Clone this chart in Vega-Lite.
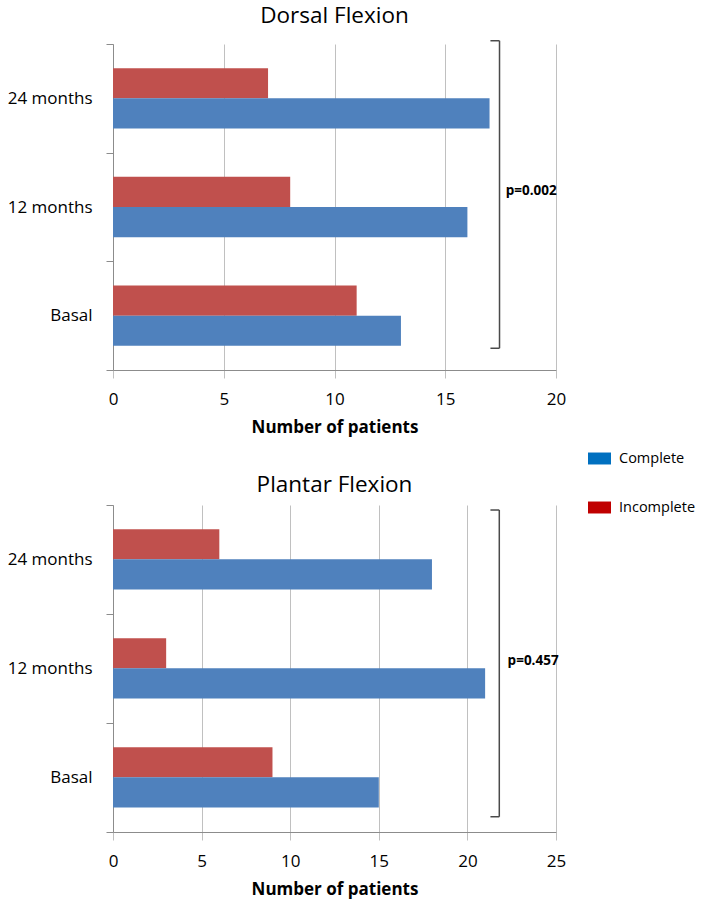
{
  "$schema": "https://vega.github.io/schema/vega-lite/v6.json",
  "padding": {"left": 7, "top": 4, "right": 5, "bottom": 5},
  "background": "white",
  "datasets": {
    "dorsal": [
      {"time": "24 months", "series": "Incomplete", "patients": 7},
      {"time": "24 months", "series": "Complete", "patients": 17},
      {"time": "12 months", "series": "Incomplete", "patients": 8},
      {"time": "12 months", "series": "Complete", "patients": 16},
      {"time": "Basal", "series": "Incomplete", "patients": 11},
      {"time": "Basal", "series": "Complete", "patients": 13}
    ],
    "plantar": [
      {"time": "24 months", "series": "Incomplete", "patients": 6},
      {"time": "24 months", "series": "Complete", "patients": 18},
      {"time": "12 months", "series": "Incomplete", "patients": 3},
      {"time": "12 months", "series": "Complete", "patients": 21},
      {"time": "Basal", "series": "Incomplete", "patients": 9},
      {"time": "Basal", "series": "Complete", "patients": 15}
    ],
    "dorsalBracket": [
      {"x": 17.45, "x2": 17.45, "y": -0.03, "y2": 2.8},
      {"x": 17.04, "x2": 17.45, "y": -0.03, "y2": -0.03},
      {"x": 17.04, "x2": 17.45, "y": 2.8, "y2": 2.8}
    ],
    "plantarBracket": [
      {"x": 21.8, "x2": 21.8, "y": 0.046, "y2": 2.86},
      {"x": 21.3, "x2": 21.8, "y": 0.046, "y2": 0.046},
      {"x": 21.3, "x2": 21.8, "y": 2.86, "y2": 2.86}
    ],
    "dorsalP": [{"x": 17.73, "y": 1.35, "label": "p=0.002"}],
    "plantarP": [{"x": 22.27, "y": 1.43, "label": "p=0.457"}]
  },
  "bounds": "flush",
  "spacing": 135,
  "resolve": {"legend": {"color": "independent"}},
  "vconcat": [
    {
      "width": 443,
      "height": 326,
      "title": {"text": "Dorsal Flexion", "offset": 8},
      "layer": [
        {
          "layer": [
            {
              "data": {"name": "dorsal"},
              "mark": {"type": "bar", "opacity": 0},
              "encoding": {
                "y": {
                  "field": "time", "type": "nominal",
                  "sort": ["24 months", "12 months", "Basal"],
                  "scale": {"paddingInner": 0, "paddingOuter": 0},
                  "axis": {"title": null}
                },
                "yOffset": {
                  "field": "series", "type": "nominal",
                  "sort": ["Incomplete", "Complete"],
                  "scale": {"paddingInner": 0, "paddingOuter": 0.8}
                },
                "x": {
                  "field": "patients", "type": "quantitative",
                  "scale": {"domain": [0, 20], "nice": false},
                  "axis": {"values": [0, 5, 10, 15, 20], "title": "Number of patients"}
                },
                "color": {
                  "field": "series", "type": "nominal",
                  "scale": {"domain": ["Complete", "Incomplete"], "range": ["#0070C0", "#C00000"]},
                  "legend": {
                    "title": null,
                    "orient": "none",
                    "legendX": 475,
                    "legendY": 403,
                    "symbolType": "M-1,-0.52L1,-0.52L1,0.52L-1,0.52Z",
                    "symbolSize": 529,
                    "symbolStrokeWidth": 0,
                    "symbolOpacity": 1,
                    "labelFont": "Open Sans",
                    "labelFontSize": 14.5,
                    "labelColor": "black",
                    "labelOffset": 8,
                    "rowPadding": 31
                  }
                }
              }
            },
            {
              "data": {"name": "dorsal"},
              "mark": {"type": "bar"},
              "encoding": {
                "y": {"field": "time", "type": "nominal", "sort": ["24 months", "12 months", "Basal"]},
                "yOffset": {"field": "series", "type": "nominal", "sort": ["Incomplete", "Complete"]},
                "x": {"field": "patients", "type": "quantitative"},
                "fill": {"condition": {"test": "datum.series === 'Complete'", "value": "#4F81BD"}, "value": "#C0504D"}
              }
            }
          ]
        },
        {
          "layer": [
            {
              "data": {"name": "dorsalBracket"},
              "mark": {"type": "rule", "color": "#4A4A4A", "strokeWidth": 1.5},
              "encoding": {
                "x": {"field": "x", "type": "quantitative"},
                "x2": {"field": "x2"},
                "y": {"field": "y", "type": "quantitative", "scale": {"domain": [0, 3], "reverse": true, "nice": false, "zero": false}, "axis": null},
                "y2": {"field": "y2"}
              }
            },
            {
              "data": {"name": "dorsalP"},
              "mark": {"type": "text", "align": "left", "baseline": "middle", "fontWeight": "bold", "fontSize": 13.5, "font": "Open Sans", "color": "black"},
              "encoding": {
                "x": {"field": "x", "type": "quantitative"},
                "y": {"field": "y", "type": "quantitative"},
                "text": {"field": "label"}
              }
            }
          ]
        }
      ],
      "resolve": {"scale": {"y": "independent"}, "axis": {"y": "independent"}}
    },
    {
      "width": 443,
      "height": 327,
      "title": {"text": "Plantar Flexion", "offset": 0},
      "layer": [
        {
          "data": {"name": "plantar"},
          "mark": {"type": "bar"},
          "encoding": {
            "y": {
              "field": "time", "type": "nominal",
              "sort": ["24 months", "12 months", "Basal"],
              "scale": {"paddingInner": 0, "paddingOuter": 0},
              "axis": {"title": null}
            },
            "yOffset": {
              "field": "series", "type": "nominal",
              "sort": ["Incomplete", "Complete"],
              "scale": {"paddingInner": 0, "paddingOuter": 0.8}
            },
            "x": {
              "field": "patients", "type": "quantitative",
              "scale": {"domain": [0, 25], "nice": false},
              "axis": {"values": [0, 5, 10, 15, 20, 25], "title": "Number of patients"}
            },
            "fill": {"condition": {"test": "datum.series === 'Complete'", "value": "#4F81BD"}, "value": "#C0504D"}
          }
        },
        {
          "layer": [
            {
              "data": {"name": "plantarBracket"},
              "mark": {"type": "rule", "color": "#4A4A4A", "strokeWidth": 1.5},
              "encoding": {
                "x": {"field": "x", "type": "quantitative"},
                "x2": {"field": "x2"},
                "y": {"field": "y", "type": "quantitative", "scale": {"domain": [0, 3], "reverse": true, "nice": false, "zero": false}, "axis": null},
                "y2": {"field": "y2"}
              }
            },
            {
              "data": {"name": "plantarP"},
              "mark": {"type": "text", "align": "left", "baseline": "middle", "fontWeight": "bold", "fontSize": 13.5, "font": "Open Sans", "color": "black"},
              "encoding": {
                "x": {"field": "x", "type": "quantitative"},
                "y": {"field": "y", "type": "quantitative"},
                "text": {"field": "label"}
              }
            }
          ]
        }
      ],
      "resolve": {"scale": {"y": "independent"}, "axis": {"y": "independent"}}
    }
  ],
  "config": {
    "view": {"stroke": null},
    "font": "Open Sans",
    "title": {"font": "Open Sans", "fontSize": 22.5, "fontWeight": "normal", "color": "black", "anchor": "middle"},
    "axisX": {
      "grid": true, "gridColor": "#C0C0C0", "domainColor": "#8C8C8C",
      "tickColor": "#C0C0C0", "tickSize": 8, "labelFont": "Open Sans",
      "labelFontSize": 17, "labelColor": "black", "labelPadding": 13, "labelFlush": false,
      "titleFont": "Open Sans", "titleFontSize": 17, "titleFontWeight": "bold",
      "titleColor": "black", "titlePadding": 12
    },
    "axisY": {
      "grid": false, "domainColor": "#8C8C8C", "tickColor": "#8C8C8C",
      "tickSize": 7, "tickBand": "extent", "labelFont": "Open Sans",
      "labelFontSize": 17, "labelColor": "black", "labelPadding": 14
    }
  }
}
